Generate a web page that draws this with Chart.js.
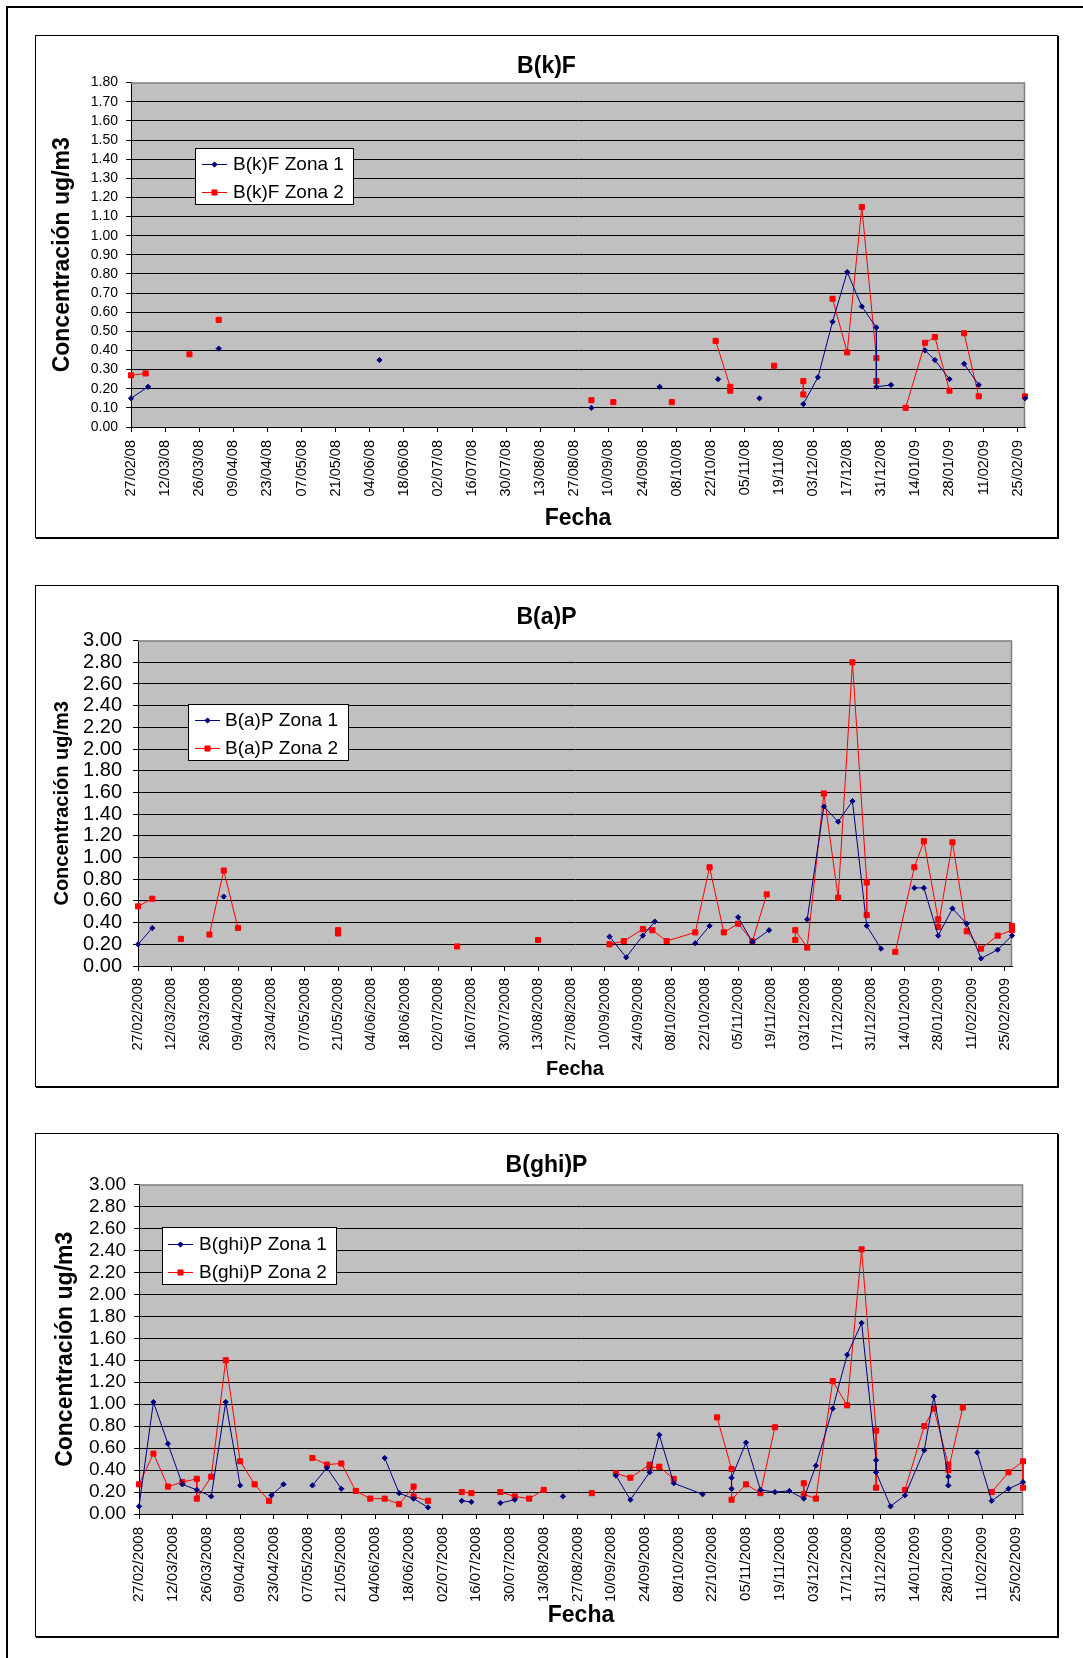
<!DOCTYPE html>
<html>
<head>
<meta charset="utf-8">
<script src="https://cdn.jsdelivr.net/npm/chart.js@4.4.0/dist/chart.umd.min.js"></script>
<style>
	body { margin: 0; background: #fff; }
	#hoja { position: relative; width: 1083px; height: 1658px; overflow: hidden; }
	#marco { position: absolute; left: 6px; top: 6px; width: 1200px; height: 1800px; border-left: 2px solid #000; border-top: 2px solid #000; }
	.caja { position: absolute; left: 35px; width: 1021px; border: 1px solid #000; box-shadow: 1px 1px 0 #000; }
	canvas { position: absolute; left: 35px; }
</style>
</head>
<body>
<div id="hoja">
	<div id="marco"></div>
	<canvas id="g1" width="1023" height="503" style="top:35px"></canvas>
	<canvas id="g2" width="1023" height="502" style="top:585px"></canvas>
	<canvas id="g3" width="1023" height="504" style="top:1133px"></canvas>
	<div class="caja" style="top:35px;height:501px"></div>
	<div class="caja" style="top:585px;height:500px"></div>
	<div class="caja" style="top:1133px;height:502px"></div>
</div>
<script>
// fechas de las marcas del eje (cada 14 dias)
var fechasEje = ['27/02/2008','12/03/2008','26/03/2008','09/04/2008','23/04/2008','07/05/2008','21/05/2008',
	'04/06/2008','18/06/2008','02/07/2008','16/07/2008','30/07/2008','13/08/2008','27/08/2008','10/09/2008',
	'24/09/2008','08/10/2008','22/10/2008','05/11/2008','19/11/2008','03/12/2008','17/12/2008','31/12/2008',
	'14/01/2009','28/01/2009','11/02/2009','25/02/2009'];
var fechaInicio = '27/02/2008';
var fechaFin = '28/02/2009';

// B(k)F  (null = hueco, la linea se corta)
var bkfFechas1 = ['27/02/2008','05/03/2008',null,'03/04/2008',null,'08/06/2008',null,'03/09/2008',null,'01/10/2008',null,
	'25/10/2008',null,'11/11/2008',null,'29/11/2008','05/12/2008','11/12/2008','17/12/2008','23/12/2008','29/12/2008',
	'29/12/2008','04/01/2009',null,'18/01/2009','22/01/2009','28/01/2009',null,'03/02/2009','09/02/2009',null,'28/02/2009'];
var bkfZona1 = [0.15,0.21,null,0.41,null,0.35,null,0.10,null,0.21,null,
	0.25,null,0.15,null,0.12,0.26,0.55,0.81,0.63,0.52,
	0.21,0.22,null,0.40,0.35,0.25,null,0.33,0.22,null,0.15];
var bkfFechas2 = ['27/02/2008','04/03/2008',null,'22/03/2008',null,'03/04/2008',null,'03/09/2008',null,'12/09/2008',null,
	'06/10/2008',null,'24/10/2008','30/10/2008','30/10/2008',null,'17/11/2008',null,'29/11/2008','29/11/2008',null,
	'11/12/2008','17/12/2008','23/12/2008','29/12/2008','29/12/2008',null,'10/01/2009','18/01/2009','22/01/2009',
	'28/01/2009',null,'03/02/2009','09/02/2009',null,'28/02/2009'];
var bkfZona2 = [0.27,0.28,null,0.38,null,0.56,null,0.14,null,0.13,null,
	0.13,null,0.45,0.21,0.19,null,0.32,null,0.24,0.17,null,
	0.67,0.39,1.15,0.36,0.24,null,0.10,0.44,0.47,
	0.19,null,0.49,0.16,null,0.16];

// B(a)P
var bapFechas1 = ['27/02/2008','04/03/2008',null,'03/04/2008',null,'12/09/2008','19/09/2008','26/09/2008','01/10/2008',null,
	'18/10/2008','24/10/2008',null,'05/11/2008','11/11/2008','18/11/2008',null,'04/12/2008','11/12/2008','17/12/2008',
	'23/12/2008','29/12/2008','04/01/2009',null,'18/01/2009','22/01/2009','28/01/2009','03/02/2009','09/02/2009',
	'15/02/2009','22/02/2009','28/02/2009'];
var bapZona1 = [0.20,0.35,null,0.64,null,0.27,0.08,0.28,0.41,null,
	0.21,0.37,null,0.45,0.22,0.33,null,0.43,1.47,1.33,
	1.52,0.37,0.16,null,0.72,0.72,0.28,0.53,0.39,
	0.07,0.15,0.28];
var bapFechas2 = ['27/02/2008','04/03/2008',null,'16/03/2008',null,'28/03/2008','03/04/2008','09/04/2008',null,
	'21/05/2008','21/05/2008',null,'10/07/2008',null,'13/08/2008',null,'12/09/2008','18/09/2008','26/09/2008',
	'30/09/2008','06/10/2008','18/10/2008','24/10/2008','30/10/2008','05/11/2008','11/11/2008','17/11/2008',null,
	'29/11/2008','29/11/2008','04/12/2008','11/12/2008','17/12/2008','23/12/2008','29/12/2008','29/12/2008',null,
	'10/01/2009','18/01/2009','22/01/2009','28/01/2009','28/01/2009','03/02/2009','09/02/2009','15/02/2009',
	'22/02/2009','28/02/2009','28/02/2009'];
var bapZona2 = [0.55,0.62,null,0.25,null,0.29,0.88,0.35,null,
	0.33,0.30,null,0.18,null,0.24,null,0.20,0.23,0.34,
	0.33,0.23,0.31,0.91,0.31,0.39,0.23,0.66,null,
	0.24,0.33,0.17,1.59,0.63,2.80,0.77,0.47,null,
	0.13,0.91,1.15,0.43,0.36,1.14,0.32,0.16,
	0.28,0.33,0.37];

// B(ghi)P
var bghiFechas1 = ['27/02/2008','04/03/2008','10/03/2008','16/03/2008','22/03/2008','28/03/2008','03/04/2008','09/04/2008',null,
	'22/04/2008','27/04/2008',null,'09/05/2008','15/05/2008','21/05/2008',null,'08/06/2008','14/06/2008','20/06/2008',
	'26/06/2008',null,'10/07/2008','14/07/2008',null,'26/07/2008','01/08/2008',null,'21/08/2008',null,'12/09/2008',
	'18/09/2008','26/09/2008','30/09/2008','06/10/2008','18/10/2008',null,'30/10/2008','30/10/2008','05/11/2008',
	'11/11/2008','17/11/2008','23/11/2008','29/11/2008','04/12/2008','11/12/2008','17/12/2008','23/12/2008',
	'29/12/2008','29/12/2008','04/01/2009','10/01/2009','18/01/2009','22/01/2009','28/01/2009','28/01/2009',null,
	'09/02/2009','15/02/2009','22/02/2009','28/02/2009'];
var bghiZona1 = [0.07,1.02,0.64,0.27,0.22,0.16,1.02,0.26,null,
	0.17,0.27,null,0.26,0.42,0.23,null,0.51,0.19,0.14,
	0.06,null,0.12,0.11,null,0.10,0.13,null,0.16,null,0.35,
	0.13,0.38,0.72,0.28,0.18,null,0.23,0.33,0.65,
	0.22,0.20,0.21,0.14,0.44,0.96,1.45,1.74,
	0.49,0.38,0.07,0.17,0.58,1.07,0.34,0.26,null,
	0.56,0.12,0.23,0.29];
var bghiFechas2 = ['27/02/2008','04/03/2008','10/03/2008','16/03/2008','22/03/2008','22/03/2008','28/03/2008','03/04/2008',
	'09/04/2008','15/04/2008','21/04/2008',null,'09/05/2008','15/05/2008','21/05/2008','27/05/2008','02/06/2008',
	'08/06/2008','14/06/2008','20/06/2008','20/06/2008','26/06/2008',null,'10/07/2008','14/07/2008',null,'26/07/2008',
	'01/08/2008','07/08/2008','13/08/2008',null,'02/09/2008',null,'12/09/2008','18/09/2008','26/09/2008','26/09/2008',
	'30/09/2008','06/10/2008',null,'24/10/2008','30/10/2008','30/10/2008','05/11/2008','11/11/2008','17/11/2008',null,
	'29/11/2008','29/11/2008','04/12/2008','11/12/2008','17/12/2008','23/12/2008','29/12/2008','29/12/2008',null,
	'10/01/2009','18/01/2009','22/01/2009','28/01/2009','28/01/2009','03/02/2009',null,'15/02/2009','22/02/2009',
	'28/02/2009','28/02/2009'];
var bghiZona2 = [0.27,0.55,0.25,0.29,0.32,0.14,0.34,1.40,
	0.48,0.27,0.12,null,0.51,0.45,0.46,0.21,0.14,
	0.14,0.09,0.25,0.16,0.12,null,0.20,0.19,null,0.20,
	0.16,0.14,0.22,null,0.19,null,0.37,0.33,0.45,0.42,
	0.43,0.32,null,0.88,0.41,0.13,0.27,0.19,0.79,null,
	0.28,0.18,0.14,1.21,0.99,2.41,0.76,0.24,null,
	0.22,0.80,0.96,0.45,0.40,0.97,null,0.20,0.38,
	0.48,0.24];

var fuente = 'Arial, "Liberation Sans", sans-serif';
Chart.defaults.color = '#000';
Chart.defaults.font.family = fuente;

// dias desde el inicio del eje
function dia(s) {
	var p = s.split('/');
	var a = fechaInicio.split('/');
	return (Date.UTC(+p[2], p[1] - 1, +p[0]) - Date.UTC(+a[2], a[1] - 1, +a[0])) / 864e5;
}

function puntos(fechas, valores) {
	var out = [], ultimo = 0;
	for (var i = 0; i < valores.length; i++) {
		if (fechas[i]) ultimo = dia(fechas[i]);
		out.push({x: ultimo, y: valores[i]});
	}
	return out;
}

/* fondo gris y borde gris del area de trazado */
var fondoGrafico = {
	id: 'fondoGrafico',
	beforeDraw: function (chart) {
		var a = chart.chartArea, ctx = chart.ctx;
		ctx.save();
		ctx.fillStyle = '#C0C0C0';
		ctx.fillRect(a.left, a.top, a.right - a.left, a.bottom - a.top);
		ctx.restore();
	},
	beforeDatasetsDraw: function (chart) {
		var a = chart.chartArea, ctx = chart.ctx;
		ctx.save();
		ctx.strokeStyle = '#808080';
		ctx.lineWidth = 1.5;
		ctx.beginPath();
		ctx.moveTo(a.left, a.top + 0.5);
		ctx.lineTo(a.right - 0.5, a.top + 0.5);
		ctx.lineTo(a.right - 0.5, a.bottom);
		ctx.stroke();
		ctx.restore();
	}
};

/* leyenda con recuadro, como la de Excel */
var cajaLeyenda = {
	id: 'cajaLeyenda',
	afterDraw: function (chart, args, o) {
		var ctx = chart.ctx;
		ctx.save();
		ctx.fillStyle = '#fff';
		ctx.fillRect(o.x, o.y, o.w, o.h);
		ctx.strokeStyle = '#000';
		ctx.lineWidth = 1;
		ctx.strokeRect(o.x + 0.5, o.y + 0.5, o.w, o.h);
		chart.data.datasets.forEach(function (ds, i) {
			var y = o.filas[i];
			ctx.strokeStyle = ds.borderColor;
			ctx.lineWidth = 1;
			ctx.beginPath();
			ctx.moveTo(o.linea[0], y + 0.5);
			ctx.lineTo(o.linea[1], y + 0.5);
			ctx.stroke();
			ctx.fillStyle = ds.backgroundColor;
			Chart.helpers.drawPoint(ctx, {pointStyle: ds.pointStyle, radius: ds.pointRadius, borderWidth: 1, rotation: 0},
				(o.linea[0] + o.linea[1]) / 2, y + 0.5);
			ctx.fillStyle = '#000';
			ctx.font = o.tamano + 'px ' + fuente;
			ctx.textBaseline = 'middle';
			ctx.fillText(ds.label, o.textoX, y + 1);
		});
		ctx.restore();
	}
};

function serie(label, data, color, estilo, radio) {
	return {
		label: label, data: data,
		borderColor: color, backgroundColor: color,
		borderWidth: 1, pointStyle: estilo, pointRadius: radio, pointHoverRadius: radio,
		pointBorderWidth: 1, spanGaps: false, tension: 0, clip: false
	};
}

function crearGrafico(o) {
	var yMax = o.yMax;
	return new Chart(document.getElementById(o.id), {
		type: 'line',
		data: {
			datasets: [
				serie(o.nombre + ' Zona 1', o.zona1, '#000080', 'rectRot', 2.6),
				serie(o.nombre + ' Zona 2', o.zona2, '#FF0000', 'rect', 3.6)
			]
		},
		options: {
			responsive: false,
			animation: false,
			events: [],
			layout: {padding: 0},
			plugins: {
				legend: {display: false},
				tooltip: {enabled: false},
				title: {
					display: true, text: o.nombre, color: '#000',
					font: {size: 23, weight: 'bold', family: fuente, lineHeight: 1.2},
					padding: {top: o.tituloArriba, bottom: o.tituloAbajo}
				},
				cajaLeyenda: o.leyenda
			},
			scales: {
				x: {
					type: 'linear', min: 0, max: dia(fechaFin),
					afterBuildTicks: function (s) {
						s.ticks = fechasEje.map(function (f) { return {value: dia(f)}; });
					},
					afterFit: function (s) { s.height = o.xAlto; },
					ticks: {
						autoSkip: false, maxRotation: 90, minRotation: 90, color: '#000',
						font: {size: o.xLetra, family: fuente}, padding: o.xPad,
						callback: function (v, i) {
							var f = fechasEje[i];
							return o.corto ? f.slice(0, 6) + f.slice(8) : f;
						}
					},
					grid: {drawOnChartArea: false, color: '#000', tickLength: 5},
					border: {color: '#000', width: 1},
					title: {
						display: true, text: 'Fecha', color: '#000',
						font: {size: o.fechaLetra, weight: 'bold', family: fuente, lineHeight: 1.2},
						padding: {top: 0, bottom: o.fechaPad}
					}
				},
				y: {
					min: 0, max: yMax,
					afterFit: function (s) { s.width = o.yAncho; },
					ticks: {
						stepSize: o.paso, maxTicksLimit: 40, autoSkip: false, color: '#000', padding: o.yPad,
						font: {size: o.yLetra, family: fuente},
						callback: function (v) { return v.toFixed(2); }
					},
					grid: {
						color: function (c) { return c.tick && c.tick.value >= yMax - 1e-6 ? 'rgba(0,0,0,0)' : '#000'; },
						tickColor: '#000', tickLength: 5, lineWidth: 1
					},
					border: {color: '#000', width: 1},
					title: {
						display: true, text: 'Concentración ug/m3', color: '#000',
						font: {size: o.yTituloLetra, weight: 'bold', family: fuente, lineHeight: 1.2},
						padding: {top: o.yTituloPad, bottom: 0}
					}
				},
				// reserva el margen derecho sin mover el titulo
				margenDer: {
					position: 'right', display: true,
					grid: {display: false}, border: {display: false}, ticks: {display: false},
					afterFit: function (s) { s.width = o.derecha; }
				}
			}
		},
		plugins: [fondoGrafico, cajaLeyenda]
	});
}

crearGrafico({
	id: 'g1', nombre: 'B(k)F', yMax: 1.8, paso: 0.1, corto: true,
	zona1: puntos(bkfFechas1, bkfZona1), zona2: puntos(bkfFechas2, bkfZona2),
	tituloArriba: 18, tituloAbajo: 2, yAncho: 96, derecha: 33, xAlto: 111,
	xLetra: 14.5, xPad: 8, yLetra: 14, yPad: 8,
	fechaLetra: 23, fechaPad: 6, yTituloLetra: 23, yTituloPad: 14,
	leyenda: {x: 160, y: 113, w: 158, h: 56, filas: [129, 157], linea: [167, 192], textoX: 198, tamano: 19}
});

crearGrafico({
	id: 'g2', nombre: 'B(a)P', yMax: 3, paso: 0.2, corto: false,
	zona1: puntos(bapFechas1, bapZona1), zona2: puntos(bapFechas2, bapZona2),
	tituloArriba: 19, tituloAbajo: 9, yAncho: 103, derecha: 46, xAlto: 121,
	xLetra: 14.5, xPad: 7, yLetra: 20, yPad: 11,
	fechaLetra: 20, fechaPad: 6, yTituloLetra: 20, yTituloPad: 15,
	leyenda: {x: 153, y: 119, w: 160, h: 56, filas: [135, 163], linea: [160, 185], textoX: 190, tamano: 19}
});

crearGrafico({
	id: 'g3', nombre: 'B(ghi)P', yMax: 3, paso: 0.2, corto: false,
	zona1: puntos(bghiFechas1, bghiZona1), zona2: puntos(bghiFechas2, bghiZona2),
	tituloArriba: 19, tituloAbajo: 5, yAncho: 104, derecha: 35, xAlto: 123,
	xLetra: 15, xPad: 8, yLetra: 19, yPad: 8,
	fechaLetra: 23, fechaPad: 8, yTituloLetra: 23, yTituloPad: 17,
	leyenda: {x: 127, y: 94, w: 174, h: 57, filas: [111, 139], linea: [133, 158], textoX: 164, tamano: 19}
});
</script>
</body>
</html>
